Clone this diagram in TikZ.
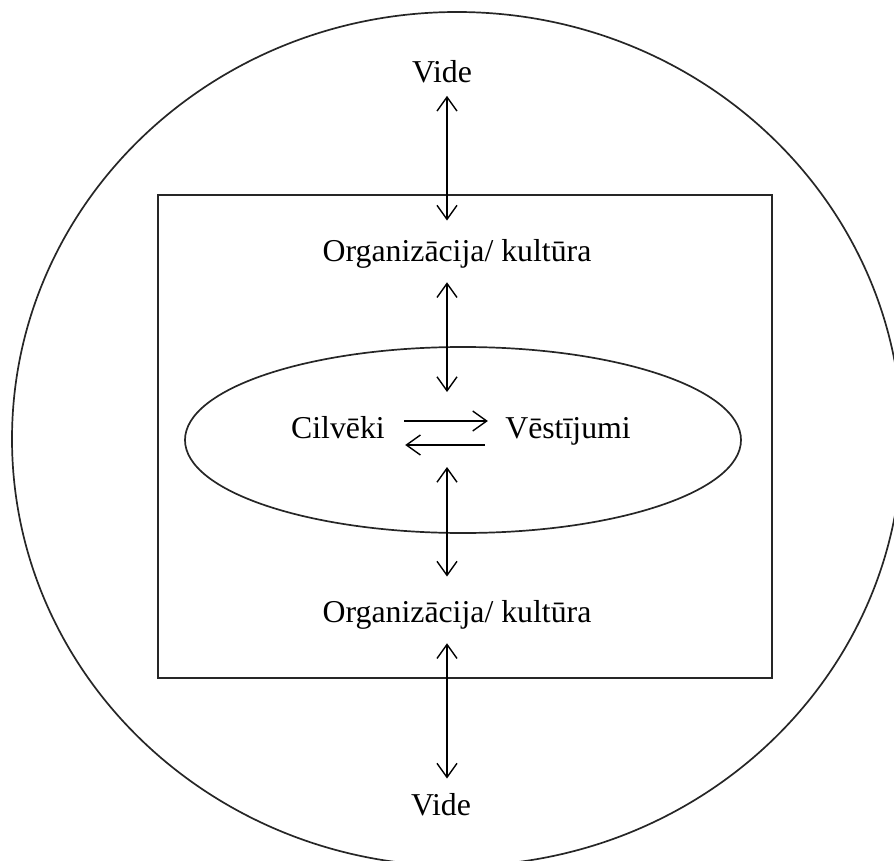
\documentclass[tikz,border=0pt]{standalone}
\usepackage{fontspec}
\setmainfont{Liberation Serif}
\usetikzlibrary{arrows.meta}

\begin{document}
\begin{tikzpicture}[
  x=0.5pt, y=-0.5pt,
  lbl/.style={inner sep=0pt, font=\fontsize{15.9}{18}\selectfont},
  frm/.style={line width=0.85pt, draw=black!85},
  ar/.style={{Straight Barb[length=7pt,width=10pt]}-{Straight Barb[length=7pt,width=10pt]}, line width=0.7pt},
  ar1/.style={-{Straight Barb[length=7pt,width=10pt]}, line width=0.7pt}
]
\useasboundingbox (0,0) rectangle (894,861);

% frames
\draw[frm] (457,439) ellipse [x radius=222.5pt, y radius=213.5pt];
\draw[frm] (158,195) rectangle (772,678);
\draw[frm] (463,440) ellipse [x radius=139pt, y radius=46.5pt];

% texts
\node[lbl, anchor=base] (vtop) at (442,83) {Vide};
\node[lbl, anchor=base] (orgtop) at (457,262) {Organizācija/ kultūra};
\node[lbl, anchor=base] (cil) at (338,438) {Cilvēki};
\node[lbl, anchor=base] (vest) at (568,438) {Vēstījumi};
\node[lbl, anchor=base] (orgbot) at (457,622) {Organizācija/ kultūra};
\node[lbl, anchor=base] (vbot) at (441,815) {Vide};

\coordinate (axis) at (447,0);
\coordinate (mtop) at (447,392);
\coordinate (mbot) at (447,467);

% vertical links
\draw[ar, shorten <=6pt, shorten >=9.5pt] (vtop.south -| axis) -- (orgtop.north -| axis);
\draw[ar, shorten <=6.5pt] (orgtop.south -| axis) -- (mtop);
\draw[ar, shorten >=11.5pt] (mbot) -- (orgbot.north -| axis);
\draw[ar, shorten <=7pt, shorten >=7pt] (orgbot.south -| axis) -- (vbot.north -| axis);

% people and messages
\draw[ar1] ([xshift=9.5pt, yshift=8.5pt]cil.base east) -- ([xshift=-8.5pt, yshift=8.5pt]vest.base west);
\draw[ar1] ([xshift=-10pt, yshift=-3.5pt]vest.base west) -- ([xshift=10pt, yshift=-3.5pt]cil.base east);
\end{tikzpicture}
\end{document}
